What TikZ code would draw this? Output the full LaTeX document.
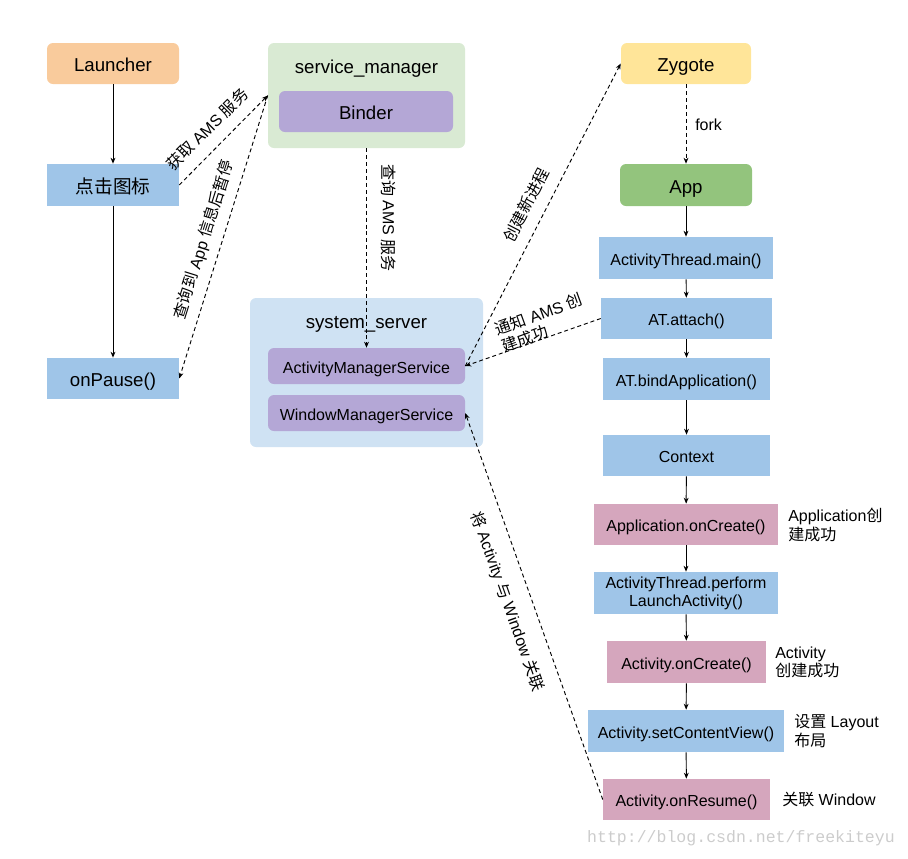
\documentclass[tikz,border=0pt]{standalone}
\usepackage{fontspec}
\setmainfont{Liberation Sans}
\newfontfamily\cjk{Noto Sans CJK SC}
\newfontfamily\wmfont{Liberation Mono}
\newcommand{\zh}[1]{{\cjk #1}}
\usepackage{tikz}
\usetikzlibrary{arrows.meta}
\newlength{\px}
\setlength{\px}{0.75pt}
\definecolor{cOrange}{HTML}{F9CB9C}
\definecolor{cMint}{HTML}{D9EAD3}
\definecolor{cViolet}{HTML}{B4A7D6}
\definecolor{cYellow}{HTML}{FFE599}
\definecolor{cGreen}{HTML}{93C47D}
\definecolor{cBlue}{HTML}{9FC5E8}
\definecolor{cSky}{HTML}{CFE2F3}
\definecolor{cPink}{HTML}{D5A6BD}

\begin{document}
\begin{tikzpicture}[x=0.75pt,y=-0.75pt,
  every node/.style={inner sep=0pt, align=center},
  blk/.style 2 args={minimum width=#1\px, minimum height=#2\px},
  big/.style={text height=12.3pt, text depth=0pt, font=\fontsize{14}{16}\selectfont},
  small/.style={font=\fontsize{12}{13.7}\selectfont},
  one/.style={text height=10.6pt, text depth=0pt},
  rnd/.style={rounded corners=4.5pt},
  arr/.style={-{Stealth[length=4.5pt,width=3.6pt]}, line width=0.7pt},
  dsh/.style={arr, dash pattern=on 3pt off 2.2pt}]
  \useasboundingbox (0,0) rectangle (908,858);

  \node[big, rnd, fill=cOrange, blk={132}{41}] (launcher) at (113,63.5) {Launcher};
  \node[big, fill=cBlue, blk={132}{42}] (click) at (113,185) {\zh{点击图标}};
  \node[big, fill=cBlue, blk={132}{41}] (pause) at (113,378.5) {onPause()};

  \node[rnd, fill=cMint, blk={197}{105}] (sm) at (366.5,95.5) {};
  \node[big] (smTitle) at (366.5,65.5) {service\_manager};
  \node[big, rnd, fill=cViolet, blk={174}{41}] (binder) at (366,111.5) {Binder};

  \node[rnd, fill=cSky, blk={233}{149}] (ss) at (366.5,372.5) {};
  \node[big] (ssTitle) at (366.5,320.5) {system\_server};
  \node[small, one, rnd, fill=cViolet, blk={197}{36}] (ams) at (366.5,366) {ActivityManagerService};
  \node[small, one, rnd, fill=cViolet, blk={197}{36}] (wms) at (366.5,413) {WindowManagerService};

  \node[big, rnd, fill=cYellow, blk={130}{41}] (zygote) at (686,63.5) {Zygote};
  \node[big, rnd, fill=cGreen, blk={132}{42}] (app) at (686,185) {App};
  \node[small, one, fill=cBlue, blk={174}{42}] (atMain) at (686,258) {ActivityThread.main()};
  \node[small, one, fill=cBlue, blk={171}{41}] (atAttach) at (686.5,318.5) {AT.attach()};
  \node[small, one, fill=cBlue, blk={167}{42}] (atBind) at (686.5,379) {AT.bindApplication()};
  \node[small, one, fill=cBlue, blk={167}{41}] (context) at (686.5,455.5) {Context};
  \node[small, one, fill=cPink, blk={184}{41}] (appCreate) at (686,524.5) {Application.onCreate()};
  \node[small, fill=cBlue, blk={184}{42}] (perform) at (686,593) {ActivityThread.perform\\LaunchActivity()};
  \node[small, one, fill=cPink, blk={159}{42}] (actCreate) at (686.5,662) {Activity.onCreate()};
  \node[small, one, fill=cBlue, blk={196}{42}] (setView) at (686,731) {Activity.setContentView()};
  \node[small, one, fill=cPink, blk={167}{41}] (resume) at (686.5,799.5) {Activity.onResume()};

  \node[small, anchor=west, align=left] (appNote) at (788,525) {Application\zh{创}\\\zh{建成功}};
  \node[small, anchor=west, align=left] (actNote) at (775,662.5) {Activity\\\zh{创建成功}};
  \node[small, anchor=west, align=left] (viewNote) at (794,731) {\zh{设置} Layout\\\zh{布局}};
  \node[small, anchor=west, align=left] (resumeNote) at (782,800) {\zh{关联} Window};

  \draw[arr] (launcher) -- (click);
  \draw[arr] (click) -- (pause);
  \draw[dsh] (click.east) -- (sm.west);
  \draw[dsh] (sm.west) -- (pause.east);
  \draw[dsh] (sm.south) -- (ams.north);
  \draw[dsh] (ams.east) -- (zygote.west);
  \draw[dsh] (atAttach.west) -- (ams.east);
  \draw[dsh] (resume.west) -- (wms.east);
  \draw[dsh] (zygote) -- (app);
  \draw[arr] (app) -- (atMain);
  \draw[arr] (atMain) -- (atAttach);
  \draw[arr] (atAttach) -- (atBind);
  \draw[arr] (atBind) -- (context);
  \draw[arr] (context) -- (appCreate);
  \draw[arr] (appCreate) -- (perform);
  \draw[arr] (perform) -- (actCreate);
  \draw[arr] (actCreate) -- (setView);
  \draw[arr] (setView) -- (resume);

  \node[small, rotate=44.7] (getLbl) at (207,129) {\zh{获取} AMS \zh{服务}};
  \node[small, rotate=72.5] (queryLbl) at (204,240) {\zh{查询到} App \zh{信息后暂停}};
  \node[small, rotate=-90] (amsLbl) at (389,218) {\zh{查询} AMS \zh{服务}};
  \node[small, rotate=62.7] (forkLbl) at (526,205) {\zh{创建新进程}};
  \node[small, rotate=20, align=left] (notifyLbl) at (542,323) {\zh{通知} AMS \zh{创}\\\zh{建成功}};
  \node[small, rotate=-70.4] (bindLbl) at (507,602) {\zh{将} Activity \zh{与} Window \zh{关联}};
  \node[small, anchor=west] (fork) at (695,125) {fork};

  \node[font=\wmfont\fontsize{12.4}{14}\selectfont, text=black!20] (mark) at (741,838) {http://blog.csdn.net/freekiteyu};
\end{tikzpicture}
\end{document}
